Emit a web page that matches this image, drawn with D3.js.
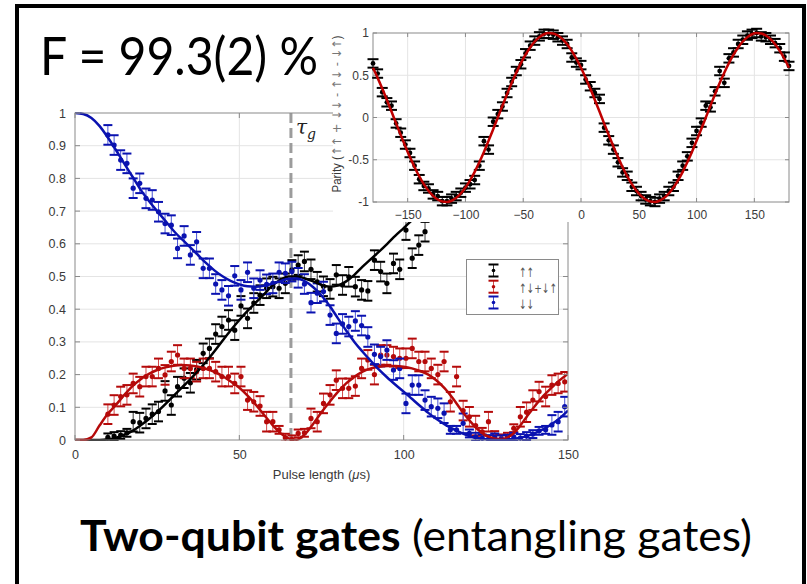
<!DOCTYPE html>
<html><head><meta charset="utf-8">
<script src="https://cdn.jsdelivr.net/npm/d3@7"></script>
<style>body{margin:0;background:#fff;} svg{display:block;}</style>
</head><body>
<svg id="c" width="807" height="584"></svg>
<script>
// ---------------- data ----------------
const pulseTimes = [10.0, 11.9, 13.9, 15.8, 17.7, 19.7, 21.6, 23.5, 25.4, 27.4,
  29.3, 31.2, 33.2, 35.1, 37.0, 39.0, 40.9, 42.8, 44.7, 46.7,
  48.6, 50.5, 52.5, 54.4, 56.3, 58.3, 60.2, 62.1, 64.0, 66.0,
  67.9, 69.8, 71.8, 73.7, 75.6, 77.6, 79.5, 81.4, 83.3, 85.3,
  87.2, 89.1, 91.1, 93.0, 94.9, 96.9, 98.8, 100.7, 102.6, 104.6,
  106.5, 108.4, 110.4, 112.3, 114.2, 116.1, 118.1, 120.0, 121.9, 123.9,
  125.8, 127.7, 129.7, 131.6, 133.5, 135.5, 137.4, 139.3, 141.2, 143.2,
  145.1, 147.0, 149.0];
const upUp = [0.008, 0.012, 0.015, 0.022, 0.056, 0.053, 0.066, 0.079, 0.087, 0.150,
  0.107, 0.163, 0.189, 0.175, 0.215, 0.265, 0.280, 0.324, 0.347, 0.367,
  0.336, 0.410, 0.372, 0.419, 0.443, 0.464, 0.469, 0.464, 0.479, 0.520,
  0.535, 0.546, 0.522, 0.484, 0.470, 0.462, 0.505, 0.474, 0.499, 0.469,
  0.459, 0.456, 0.550, 0.515, 0.479, 0.540, 0.522, 0.642, 0.556, 0.596,
  0.637, 0.700, 0.750, 0.770, 0.800, 0.840, 0.860, 0.890, 0.920, 0.940,
  0.960, 0.970, 0.990, 0.980, 0.980, 0.960, 0.930, 0.900, 0.860, 0.840,
  0.800, 0.760, 0.720];
const antiParallel = [0.079, 0.107, 0.133, 0.138, 0.173, 0.163, 0.194, 0.194, 0.219, 0.199,
  0.240, 0.260, 0.219, 0.219, 0.209, 0.219, 0.219, 0.209, 0.194, 0.194,
  0.173, 0.194, 0.122, 0.117, 0.104, 0.056, 0.056, 0.031, 0.007, 0.002,
  0.020, 0.022, 0.066, 0.056, 0.112, 0.138, 0.183, 0.158, 0.158, 0.165,
  0.219, 0.245, 0.200, 0.260, 0.260, 0.255, 0.250, 0.250, 0.280, 0.240,
  0.240, 0.219, 0.200, 0.240, 0.117, 0.194, 0.090, 0.071, 0.044, 0.025,
  0.056, 0.015, 0.005, 0.010, 0.036, 0.071, 0.085, 0.122, 0.148, 0.133,
  0.168, 0.173, 0.178];
const downDown = [0.933, 0.902, 0.856, 0.846, 0.770, 0.785, 0.739, 0.734, 0.698, 0.662,
  0.657, 0.586, 0.624, 0.566, 0.606, 0.525, 0.525, 0.477, 0.459, 0.441,
  0.502, 0.459, 0.513, 0.464, 0.489, 0.476, 0.479, 0.513, 0.510, 0.515,
  0.496, 0.477, 0.420, 0.449, 0.454, 0.382, 0.326, 0.355, 0.347, 0.364,
  0.350, 0.315, 0.262, 0.255, 0.275, 0.214, 0.219, 0.112, 0.168, 0.168,
  0.122, 0.102, 0.097, 0.082, 0.031, 0.031, 0.051, 0.020, 0.010, 0.005,
  0.003, 0.008, 0.002, 0.004, 0.010, 0.006, 0.012, 0.018, 0.028, 0.031,
  0.046, 0.056, 0.102];

const fitTimes = [0, 2.5, 5, 7.5, 10, 12.5, 15, 17.5, 20, 22.5,
  25, 27.5, 30, 32.5, 35, 37.5, 40, 42.5, 45, 47.5,
  50, 52.5, 55, 57.5, 60, 62.5, 65, 67.5, 70, 72.5,
  75, 77.5, 80, 82.5, 85, 87.5, 90, 92.5, 95, 97.5,
  100, 102.5, 105, 107.5, 110, 112.5, 115, 117.5, 120, 122.5,
  125, 127.5, 130, 132.5, 135, 137.5, 140, 142.5, 145, 147.5, 150];
const fitUpUp = [0.000, 0.000, 0.000, 0.000, 0.002, 0.007, 0.016, 0.028, 0.045, 0.064,
  0.086, 0.110, 0.135, 0.160, 0.185, 0.212, 0.241, 0.272, 0.305, 0.337,
  0.367, 0.395, 0.420, 0.445, 0.472, 0.490, 0.500, 0.500, 0.494, 0.485,
  0.474, 0.469, 0.472, 0.485, 0.505, 0.530, 0.553, 0.576, 0.600, 0.625,
  0.648, 0.672, 0.695, 0.720, 0.750, 0.790, 0.830, 0.860, 0.890, 0.930,
  0.960, 0.985, 0.995, 0.985, 0.955, 0.915, 0.875, 0.830, 0.790, 0.750, 0.710];
const fitAnti = [0.000, 0.000, 0.008, 0.045, 0.080, 0.108, 0.138, 0.165, 0.186, 0.202,
  0.214, 0.222, 0.227, 0.229, 0.228, 0.224, 0.217, 0.208, 0.195, 0.178,
  0.160, 0.136, 0.108, 0.077, 0.047, 0.021, 0.005, 0.001, 0.018, 0.050,
  0.085, 0.117, 0.147, 0.173, 0.193, 0.209, 0.219, 0.224, 0.226, 0.226,
  0.224, 0.219, 0.211, 0.200, 0.182, 0.158, 0.127, 0.092, 0.060, 0.033,
  0.014, 0.005, 0.003, 0.013, 0.038, 0.072, 0.105, 0.135, 0.160, 0.183, 0.203];
const fitDownDown = [1.000, 0.997, 0.985, 0.960, 0.925, 0.886, 0.845, 0.805, 0.765, 0.731,
  0.700, 0.670, 0.640, 0.614, 0.590, 0.565, 0.540, 0.518, 0.500, 0.486,
  0.476, 0.470, 0.469, 0.472, 0.478, 0.486, 0.493, 0.494, 0.485, 0.467,
  0.442, 0.410, 0.372, 0.335, 0.300, 0.270, 0.242, 0.215, 0.191, 0.169,
  0.148, 0.126, 0.104, 0.083, 0.064, 0.048, 0.034, 0.022, 0.012, 0.006,
  0.002, 0.000, 0.000, 0.002, 0.006, 0.012, 0.021, 0.033, 0.048, 0.067, 0.090];

const phaseDeg = [-180, -176, -172, -168, -164, -160, -156, -152, -148, -144,
  -140, -136, -132, -128, -124, -120, -116, -112, -108, -104,
  -100, -96, -92, -88, -84, -80, -76, -72, -68, -64,
  -60, -56, -52, -48, -44, -40, -36, -32, -28, -24,
  -20, -16, -12, -8, -4, 0, 4, 8, 12, 16,
  20, 24, 28, 32, 36, 40, 44, 48, 52, 56,
  60, 64, 68, 72, 76, 80, 84, 88, 92, 96,
  100, 104, 108, 112, 116, 120, 124, 128, 132, 136,
  140, 144, 148, 152, 156, 160, 164, 168, 172, 176, 180];
const parity = [0.64, 0.52, 0.30, 0.18, 0.14, -0.07, -0.18, -0.32, -0.42, -0.57,
  -0.73, -0.81, -0.84, -0.91, -0.93, -0.99, -0.99, -0.96, -0.93, -0.89,
  -0.83, -0.79, -0.74, -0.57, -0.28, -0.38, -0.05, 0.04, 0.13, 0.29,
  0.42, 0.55, 0.63, 0.76, 0.85, 0.91, 0.96, 0.99, 0.99, 0.98,
  0.95, 0.91, 0.87, 0.71, 0.65, 0.62, 0.45, 0.37, 0.29, 0.22,
  -0.12, -0.27, -0.38, -0.53, -0.65, -0.69, -0.82, -0.87, -0.93, -0.97,
  -0.99, -1.00, -0.96, -0.93, -0.87, -0.82, -0.69, -0.57, -0.46, -0.30,
  -0.16, -0.06, 0.14, 0.12, 0.31, 0.55, 0.41, 0.70, 0.77, 0.87,
  0.92, 0.97, 0.99, 1.00, 0.96, 0.95, 0.92, 0.88, 0.82, 0.72, 0.61];
const parityFit = [0.588, 0.469, 0.342, 0.208, 0.070, -0.070, -0.208, -0.342, -0.469, -0.588,
  -0.695, -0.788, -0.866, -0.927, -0.970, -0.995, -0.999, -0.985, -0.951, -0.899,
  -0.829, -0.743, -0.643, -0.530, -0.407, -0.276, -0.139, 0.000, 0.139, 0.276,
  0.407, 0.530, 0.643, 0.743, 0.829, 0.899, 0.951, 0.985, 0.999, 0.995,
  0.970, 0.927, 0.866, 0.788, 0.695, 0.588, 0.469, 0.342, 0.208, 0.070,
  -0.070, -0.208, -0.342, -0.469, -0.588, -0.695, -0.788, -0.866, -0.927, -0.970,
  -0.995, -0.999, -0.985, -0.951, -0.899, -0.829, -0.743, -0.643, -0.530, -0.407,
  -0.276, -0.139, 0.000, 0.139, 0.276, 0.407, 0.530, 0.643, 0.743, 0.829,
  0.899, 0.951, 0.985, 0.999, 0.995, 0.970, 0.927, 0.866, 0.788, 0.695, 0.588];

const mainXTicks = [0, 50, 100, 150];
const mainYTicks = [0, 0.1, 0.2, 0.3, 0.4, 0.5, 0.6, 0.7, 0.8, 0.9, 1];
const mainYTickLabels = ["0", "0.1", "0.2", "0.3", "0.4", "0.5", "0.6", "0.7", "0.8", "0.9", "1"];
const insetXTicks = [-150, -100, -50, 0, 50, 100, 150];
const insetYTicks = [-1, -0.5, 0, 0.5, 1];
const insetYTickLabels = ["-1", "-0.5", "0", "0.5", "1"];
const legendLabels = ["↑↑", "↑↓+↓↑", "↓↓"];
const gateTime = 65.7;
const errMid = 0.03, errLow = 0.012, parityErr = 0.05;

// ---------------- drawing ----------------
const svg = d3.select("#c");
svg.append("rect").attr("width", 807).attr("height", 584).attr("fill", "#fff");

const X = d3.scaleLinear().domain([0, 150]).range([75, 568]);
const Y = d3.scaleLinear().domain([0, 1]).range([440, 113]);
const axisCol = "#8a8a8a", gridCol = "#e4e4e4", labCol = "#3a3a3a";
const FONT = "'Liberation Sans', Arial, sans-serif";
const ARROWFONT = "'DejaVu Sans', sans-serif";

const main = svg.append("g");
main.append("g").selectAll("line").data(mainYTicks.slice(1, -1)).join("line")
  .attr("x1", X(0)).attr("x2", X(150)).attr("y1", d => Y(d)).attr("y2", d => Y(d))
  .attr("stroke", gridCol).attr("stroke-width", 1);
main.append("g").selectAll("line").data(mainXTicks.slice(1, -1)).join("line")
  .attr("y1", Y(0)).attr("y2", Y(1)).attr("x1", d => X(d)).attr("x2", d => X(d))
  .attr("stroke", gridCol).attr("stroke-width", 1);

svg.append("defs").append("clipPath").attr("id", "mclip").append("rect")
  .attr("x", X(0)).attr("y", Y(1) - 1).attr("width", X(150) - X(0)).attr("height", Y(0) - Y(1) + 2);

main.append("line").attr("x1", X(gateTime)).attr("x2", X(gateTime)).attr("y1", Y(1)).attr("y2", Y(0))
  .attr("stroke", "#9c9c9c").attr("stroke-width", 3).attr("stroke-dasharray", "10,5");

const plot = main.append("g").attr("clip-path", "url(#mclip)");
const series = [
  {vals: upUp, fit: fitUpUp, col: "#000000", bar: "#3a3a3a"},
  {vals: antiParallel, fit: fitAnti, col: "#b50a0a", bar: "#d24a4a"},
  {vals: downDown, fit: fitDownDown, col: "#0a12b0", bar: "#4a55d6"}
];
function errOf(v) { return v < 0.04 ? errLow : errMid; }
series.forEach(s => {
  const pts = pulseTimes.map((t, i) => ({t: t, v: s.vals[i]}));
  const g = plot.append("g");
  g.selectAll("line.v").data(pts).join("line").attr("class", "v")
    .attr("x1", d => X(d.t)).attr("x2", d => X(d.t))
    .attr("y1", d => Y(d.v - errOf(d.v))).attr("y2", d => Y(d.v + errOf(d.v)))
    .attr("stroke", s.bar).attr("stroke-width", 1);
  [-1, 1].forEach(sg => {
    g.selectAll("line.c" + (sg + 1)).data(pts).join("line").attr("class", "c" + (sg + 1))
      .attr("x1", d => X(d.t) - 4.5).attr("x2", d => X(d.t) + 4.5)
      .attr("y1", d => Y(d.v + sg * errOf(d.v))).attr("y2", d => Y(d.v + sg * errOf(d.v)))
      .attr("stroke", s.col).attr("stroke-width", 2);
  });
  g.selectAll("circle").data(pts).join("circle")
    .attr("cx", d => X(d.t)).attr("cy", d => Y(d.v)).attr("r", 2.6).attr("fill", s.col);
});
series.forEach(s => {
  const line = d3.line().x((d, i) => X(fitTimes[i])).y(d => Y(d)).curve(d3.curveMonotoneX);
  plot.append("path").attr("d", line(s.fit)).attr("fill", "none")
    .attr("stroke", s.col).attr("stroke-width", 2.5);
});

main.append("rect").attr("x", X(0)).attr("y", Y(1)).attr("width", X(150) - X(0)).attr("height", Y(0) - Y(1))
  .attr("fill", "none").attr("stroke", axisCol).attr("stroke-width", 1);
const tk = main.append("g").attr("stroke", axisCol).attr("stroke-width", 1);
mainYTicks.forEach(v => {
  tk.append("line").attr("x1", X(0)).attr("x2", X(0) + 5).attr("y1", Y(v)).attr("y2", Y(v));
  tk.append("line").attr("x1", X(150)).attr("x2", X(150) - 5).attr("y1", Y(v)).attr("y2", Y(v));
});
mainXTicks.forEach(t => {
  tk.append("line").attr("x1", X(t)).attr("x2", X(t)).attr("y1", Y(0)).attr("y2", Y(0) - 5);
  tk.append("line").attr("x1", X(t)).attr("x2", X(t)).attr("y1", Y(1)).attr("y2", Y(1) + 5);
});
const ay = main.append("g").attr("transform", `translate(${X(0)},0)`)
  .call(d3.axisLeft(Y).tickValues(mainYTicks).tickSize(0).tickPadding(9)
    .tickFormat((d, i) => mainYTickLabels[i]));
const ax = main.append("g").attr("transform", `translate(0,${Y(0)})`)
  .call(d3.axisBottom(X).tickValues(mainXTicks).tickSize(0).tickPadding(10));
[ay, ax].forEach(a => {
  a.select(".domain").remove();
  a.selectAll("text").attr("font-family", FONT).attr("font-size", 12.5).attr("fill", labCol);
});
const xl = main.append("text").attr("x", (X(0) + X(150)) / 2).attr("y", 479).attr("text-anchor", "middle")
  .attr("font-family", FONT).attr("font-size", 13).attr("fill", labCol);
xl.append("tspan").text("Pulse length (");
xl.append("tspan").attr("font-style", "italic").text("μ");
xl.append("tspan").text("s)");

const tau = main.append("text").attr("x", X(gateTime) + 5).attr("y", 134)
  .attr("font-family", "'DejaVu Serif', 'Liberation Serif', serif").attr("font-style", "italic")
  .attr("fill", "#222");
tau.append("tspan").attr("font-size", 20).text("τ");
tau.append("tspan").attr("font-size", 14).attr("dy", 5).text("g");

// legend
const lg = main.append("g");
lg.append("rect").attr("x", 466.5).attr("y", 259.5).attr("width", 92).attr("height", 55)
  .attr("fill", "#fff").attr("stroke", "#8a8a8a").attr("stroke-width", 1);
const legY = [270.5, 286.7, 302.5];
const legW = [15, 38, 15];
series.forEach((s, i) => {
  const cy = legY[i], cx = 493.5;
  lg.append("line").attr("x1", cx).attr("x2", cx).attr("y1", cy - 6).attr("y2", cy + 6).attr("stroke", s.bar);
  [-6, 6].forEach(o => lg.append("line").attr("x1", cx - 5).attr("x2", cx + 5).attr("y1", cy + o).attr("y2", cy + o)
    .attr("stroke", s.col).attr("stroke-width", 2));
  lg.append("circle").attr("cx", cx).attr("cy", cy).attr("r", 1.8).attr("fill", s.col);
  lg.append("text").attr("x", 519).attr("y", cy + 6).attr("font-family", ARROWFONT)
    .attr("font-size", 13).attr("fill", "#555")
    .attr("textLength", legW[i]).attr("lengthAdjust", "spacingAndGlyphs")
    .text(legendLabels[i]);
});

// ---------------- inset ----------------
svg.append("rect").attr("x", 333).attr("y", 8).attr("width", 470).attr("height", 214).attr("fill", "#fff");
const XI = d3.scaleLinear().domain([-180, 180]).range([373, 789]);
const YI = d3.scaleLinear().domain([-1, 1]).range([202, 33]);
const ins = svg.append("g");
ins.append("g").selectAll("line").data(insetYTicks.slice(1, -1)).join("line")
  .attr("x1", XI(-180)).attr("x2", XI(180)).attr("y1", d => YI(d)).attr("y2", d => YI(d))
  .attr("stroke", gridCol);
ins.append("g").selectAll("line").data(insetXTicks).join("line")
  .attr("y1", YI(-1)).attr("y2", YI(1)).attr("x1", d => XI(d)).attr("x2", d => XI(d))
  .attr("stroke", gridCol);
ins.append("rect").attr("x", XI(-180)).attr("y", YI(1)).attr("width", XI(180) - XI(-180)).attr("height", YI(-1) - YI(1))
  .attr("fill", "none").attr("stroke", axisCol);
const tki = ins.append("g").attr("stroke", axisCol);
insetYTicks.forEach(v => {
  tki.append("line").attr("x1", XI(-180)).attr("x2", XI(-180) + 4).attr("y1", YI(v)).attr("y2", YI(v));
  tki.append("line").attr("x1", XI(180)).attr("x2", XI(180) - 4).attr("y1", YI(v)).attr("y2", YI(v));
});
insetXTicks.forEach(t => {
  tki.append("line").attr("x1", XI(t)).attr("x2", XI(t)).attr("y1", YI(-1)).attr("y2", YI(-1) - 4);
  tki.append("line").attr("x1", XI(t)).attr("x2", XI(t)).attr("y1", YI(1)).attr("y2", YI(1) + 4);
});
const ppts = phaseDeg.map((p, i) => ({p: p, v: parity[i]}));
const ig = ins.append("g");
ig.selectAll("line.v").data(ppts).join("line").attr("class", "v")
  .attr("x1", d => XI(d.p)).attr("x2", d => XI(d.p))
  .attr("y1", d => YI(d.v - parityErr)).attr("y2", d => YI(d.v + parityErr))
  .attr("stroke", "#333").attr("stroke-width", 1);
[-1, 1].forEach(sg => {
  ig.selectAll("line.c" + (sg + 1)).data(ppts).join("line").attr("class", "c" + (sg + 1))
    .attr("x1", d => XI(d.p) - 5.5).attr("x2", d => XI(d.p) + 5.5)
    .attr("y1", d => YI(d.v + sg * parityErr)).attr("y2", d => YI(d.v + sg * parityErr))
    .attr("stroke", "#000").attr("stroke-width", 2);
});
ig.selectAll("circle").data(ppts).join("circle")
  .attr("cx", d => XI(d.p)).attr("cy", d => YI(d.v)).attr("r", 2.4).attr("fill", "#000");
const pline = d3.line().x((d, i) => XI(phaseDeg[i])).y(d => YI(d)).curve(d3.curveMonotoneX);
ins.append("path").attr("d", pline(parityFit)).attr("fill", "none").attr("stroke", "#c00000").attr("stroke-width", 2.5);

const ayi = ins.append("g").attr("transform", `translate(${XI(-180)},0)`)
  .call(d3.axisLeft(YI).tickValues(insetYTicks).tickSize(0).tickPadding(4)
    .tickFormat((d, i) => insetYTickLabels[i]));
const axi = ins.append("g").attr("transform", `translate(0,${YI(-1)})`)
  .call(d3.axisBottom(XI).tickValues(insetXTicks).tickSize(0).tickPadding(8));
[ayi, axi].forEach(a => {
  a.select(".domain").remove();
  a.selectAll("text").attr("font-family", FONT).attr("font-size", 12).attr("fill", labCol);
});
const yli = ins.append("text").attr("transform", "translate(341,114) rotate(-90)").attr("text-anchor", "middle")
  .attr("font-family", FONT).attr("font-size", 12).attr("fill", labCol)
  .attr("textLength", 157).attr("lengthAdjust", "spacingAndGlyphs");
yli.append("tspan").text("Parity (");
yli.append("tspan").attr("font-family", ARROWFONT).attr("fill", "#777").text("↑↑ + ↓↓ - ↑↓ - ↓↑");
yli.append("tspan").text(")");

// ---------------- slide texts ----------------
svg.append("text").attr("x", 40).attr("y", 75)
  .attr("font-family", "Lato, 'Open Sans', sans-serif").attr("font-weight", 400)
  .attr("font-size", 52).attr("fill", "#000")
  .attr("textLength", 278).attr("lengthAdjust", "spacingAndGlyphs")
  .text("F = 99.3(2) %");

const bt = svg.append("text").attr("x", 80).attr("y", 551)
  .attr("font-family", "Lato, 'Open Sans', sans-serif").attr("font-size", 42).attr("fill", "#000")
  .attr("textLength", 672).attr("lengthAdjust", "spacingAndGlyphs");
bt.append("tspan").attr("font-weight", 700).text("Two-qubit gates");
bt.append("tspan").attr("font-weight", 400).text(" (entangling gates)");

svg.append("rect").attr("x", 17).attr("y", 6).attr("width", 787).attr("height", 640)
  .attr("fill", "none").attr("stroke", "#000").attr("stroke-width", 4);
</script>
</body></html>
